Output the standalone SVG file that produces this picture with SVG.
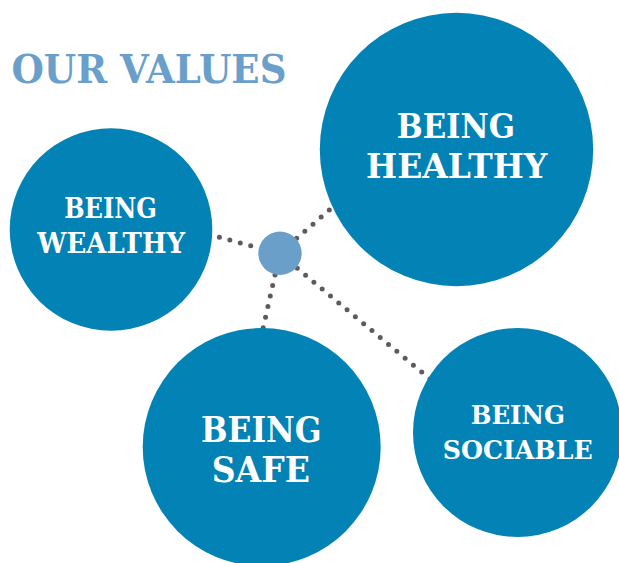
<svg xmlns="http://www.w3.org/2000/svg" width="619" height="563" viewBox="0 0 619 563">
<style>
.big{fill:#0382b5}
.hub{fill:#6a9fca}
.lbl{font-family:"DejaVu Serif","Liberation Serif",serif;font-weight:bold;fill:#ffffff;text-anchor:middle}
.title{font-family:"DejaVu Serif","Liberation Serif",serif;font-weight:bold;fill:#6a9fcb}
.dot{stroke:#5f5a61;stroke-width:5;stroke-linecap:round;stroke-dasharray:0 10.8;fill:none}
</style>
<rect width="619" height="563" fill="#ffffff"/>
<text class="title" x="11.5" y="83.3" font-size="40" textLength="275" lengthAdjust="spacingAndGlyphs">OUR VALUES</text>
<g id="connectors">
<line class="dot" x1="250.7" y1="245.7" x2="211" y2="235"/>
<line class="dot" x1="296.7" y1="238.3" x2="335" y2="205"/>
<line class="dot" x1="275" y1="275" x2="262" y2="333"/>
<line class="dot" x1="297.3" y1="268.3" x2="430" y2="379"/>
</g>
<g id="hub"><circle class="hub" cx="280" cy="253.3" r="21.7"/></g>
<g id="wealthy">
<circle class="big" cx="111" cy="229.5" r="101.3"/>
<text class="lbl" x="110.5" y="218.3" font-size="27" textLength="92.7" lengthAdjust="spacingAndGlyphs">BEING</text>
<text class="lbl" x="111.2" y="253.3" font-size="27" textLength="147.7" lengthAdjust="spacingAndGlyphs">WEALTHY</text>
</g>
<g id="healthy">
<circle class="big" cx="456.5" cy="149.5" r="136.7"/>
<text class="lbl" x="455.8" y="138.3" font-size="34" textLength="118.3" lengthAdjust="spacingAndGlyphs">BEING</text>
<text class="lbl" x="456.7" y="178.3" font-size="34" textLength="181.3" lengthAdjust="spacingAndGlyphs">HEALTHY</text>
</g>
<g id="safe">
<circle class="big" cx="261.7" cy="447" r="119"/>
<text class="lbl" x="261.3" y="441.7" font-size="34.5" textLength="120.7" lengthAdjust="spacingAndGlyphs">BEING</text>
<text class="lbl" x="260.8" y="481.7" font-size="34.5" textLength="98.3" lengthAdjust="spacingAndGlyphs">SAFE</text>
</g>
<g id="sociable">
<circle class="big" cx="517.5" cy="432.5" r="104.5"/>
<text class="lbl" x="517.8" y="424" font-size="25.5" textLength="94.3" lengthAdjust="spacingAndGlyphs">BEING</text>
<text class="lbl" x="517.7" y="459.3" font-size="25.5" textLength="150" lengthAdjust="spacingAndGlyphs">SOCIABLE</text>
</g>
</svg>
